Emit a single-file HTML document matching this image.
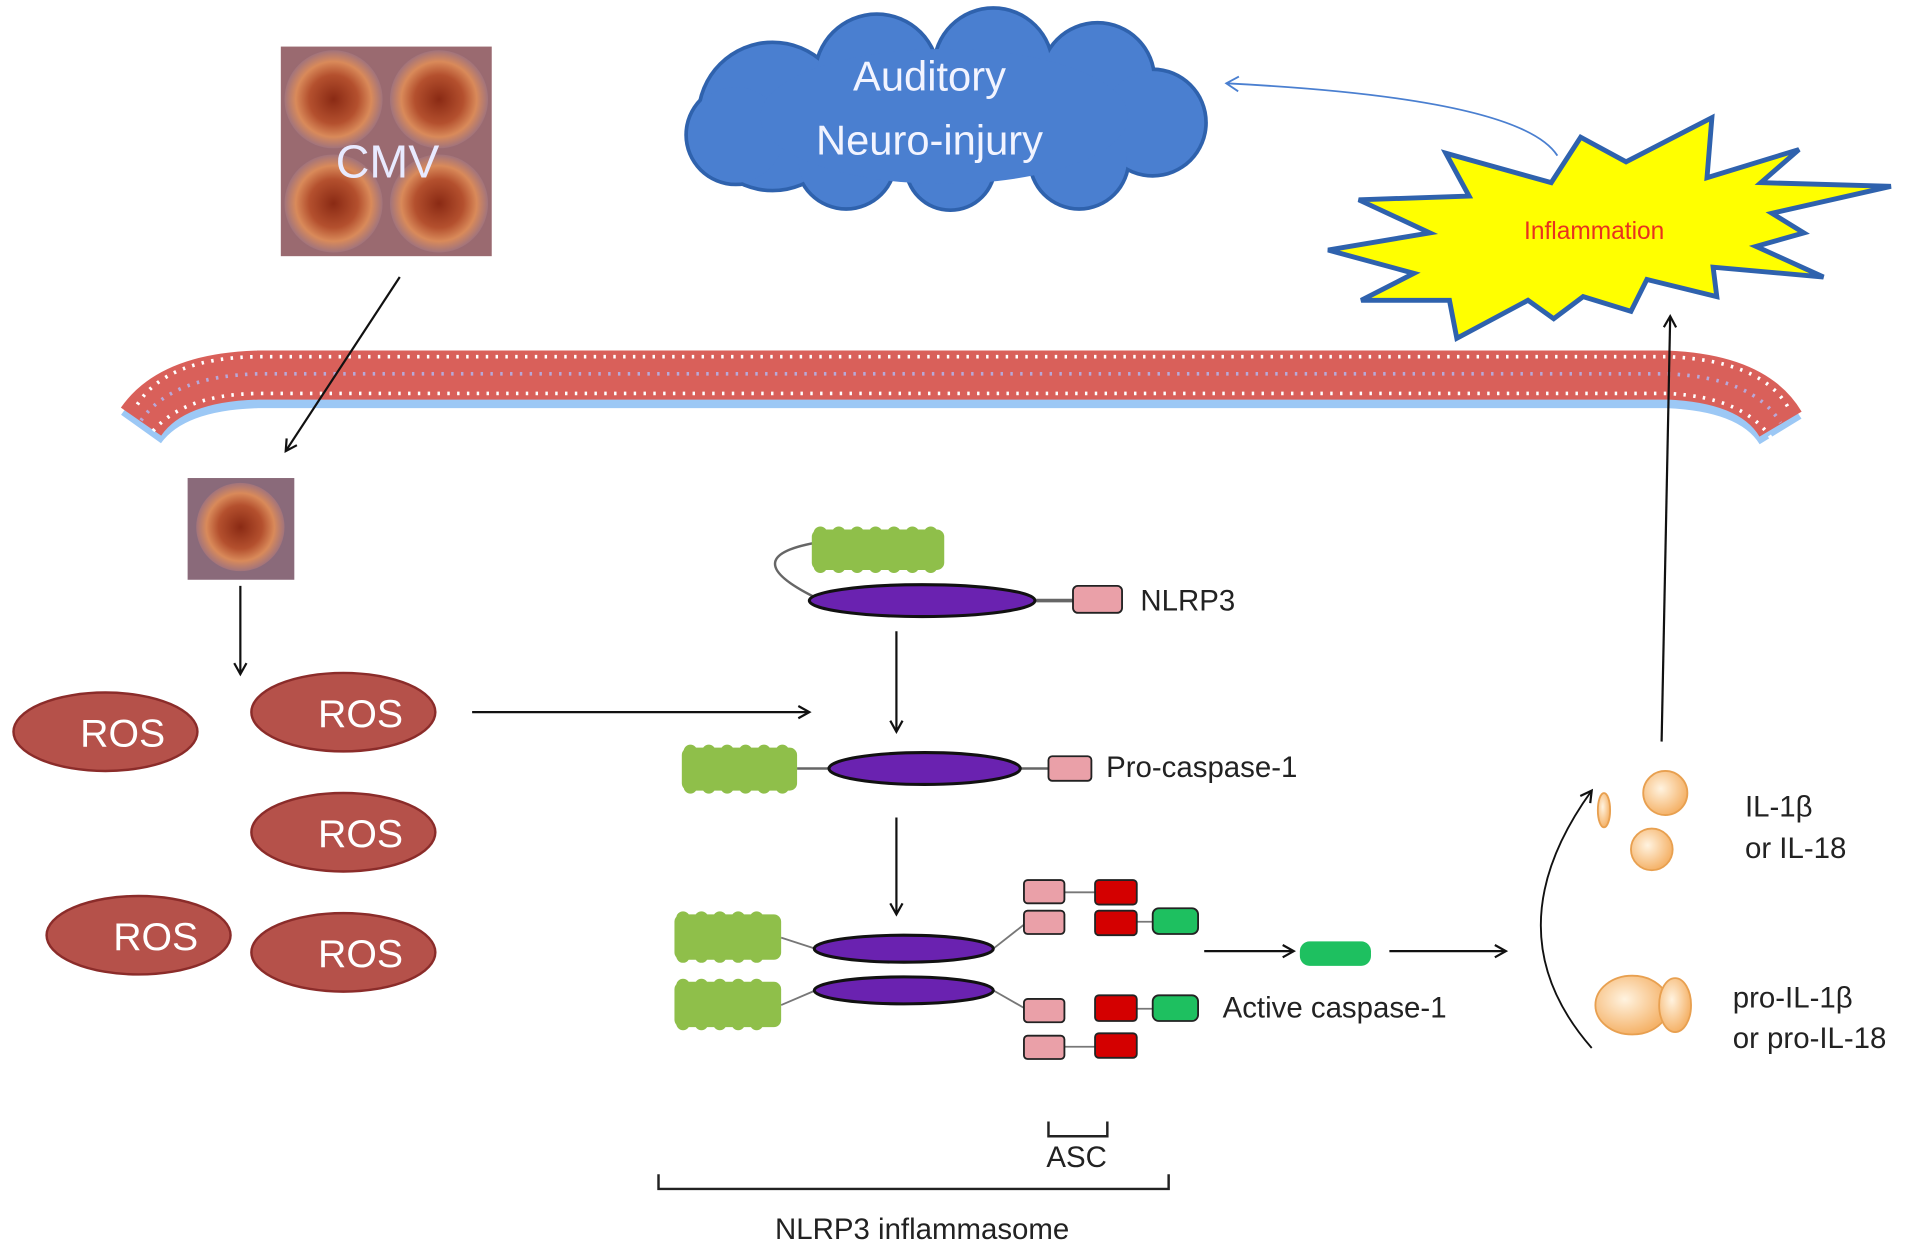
<!DOCTYPE html>
<html><head><meta charset="utf-8"><style>html,body{margin:0;padding:0;background:#fff;overflow:hidden}svg{display:block}</style></head>
<body>
<svg width="1913" height="1249" viewBox="0 0 1560 1019" preserveAspectRatio="none" xmlns="http://www.w3.org/2000/svg" font-family="Liberation Sans, sans-serif">
<defs>
<radialGradient id="vir" cx="50%" cy="50%" r="55%">
<stop offset="0" stop-color="#8a2a14"/><stop offset="0.45" stop-color="#b4502e"/><stop offset="0.7" stop-color="#d98a5a"/><stop offset="1" stop-color="#8a6a8a"/>
</radialGradient>
<radialGradient id="ball" cx="40%" cy="40%" r="60%"><stop offset="0" stop-color="#fff3e0"/><stop offset="1" stop-color="#f5b36a"/></radialGradient>
<marker id="ah" markerWidth="12" markerHeight="12" refX="10" refY="6" orient="auto" markerUnits="userSpaceOnUse"><path d="M1,1 L10,6 L1,11" fill="none" stroke="#111" stroke-width="1.8"/></marker>
<marker id="ahb" markerWidth="14" markerHeight="14" refX="12" refY="7" orient="auto" markerUnits="userSpaceOnUse"><path d="M2,1 L12,7 L2,13" fill="none" stroke="#4a7fd0" stroke-width="1.5"/></marker>
</defs>

<!-- CMV image -->
<rect x="229" y="38" width="172" height="171" fill="#9a6a70"/>
<circle cx="272" cy="81" r="40" fill="url(#vir)"/><circle cx="358" cy="81" r="40" fill="url(#vir)"/>
<circle cx="272" cy="166" r="40" fill="url(#vir)"/><circle cx="358" cy="166" r="40" fill="url(#vir)"/>
<text x="316" y="145" font-size="38" fill="#e8eaff" text-anchor="middle">CMV</text>

<!-- Cloud -->
<g fill="#2f62ad">
<circle cx="630" cy="95" r="62"/><circle cx="715" cy="62" r="52"/><circle cx="810" cy="55" r="50"/><circle cx="895" cy="65" r="48"/><circle cx="940" cy="100" r="45"/><circle cx="880" cy="130" r="42"/><circle cx="775" cy="135" r="38"/><circle cx="690" cy="130" r="42"/><circle cx="600" cy="110" r="42"/></g>
<g fill="#4a7fd0">
<circle cx="630" cy="95" r="59"/><circle cx="715" cy="62" r="49"/><circle cx="810" cy="55" r="47"/><circle cx="895" cy="65" r="45"/><circle cx="940" cy="100" r="42"/><circle cx="880" cy="130" r="39"/><circle cx="775" cy="135" r="35"/><circle cx="690" cy="130" r="39"/><circle cx="600" cy="110" r="39"/><ellipse cx="770" cy="95" rx="150" ry="55"/></g>
<text x="758" y="74" font-size="34" fill="#f2f4ff" text-anchor="middle">Auditory</text>
<text x="758" y="126" font-size="34" fill="#f2f4ff" text-anchor="middle">Neuro-injury</text>
<path d="M1270,127 Q1240,80 1000,68" fill="none" stroke="#4a7fd0" stroke-width="1.5" marker-end="url(#ahb)"/>

<!-- Star -->
<polygon points="1083,204 1166,190 1108,163 1198,160 1179,125 1265,149 1289,112 1326,132 1396,96 1392,145 1467,122 1436,149 1542,152 1445,174 1471,190 1432,201 1487,226 1397,218 1400,242 1343,228 1330,254 1291,242 1267,260 1246,245 1188,276 1182,245 1110,245 1153,223" fill="#ffff00" stroke="#2f62ad" stroke-width="4" stroke-linejoin="miter"/>
<text x="1300" y="195" font-size="20" fill="#e8321e" text-anchor="middle">Inflammation</text>

<!-- Membrane -->
<path d="M115,350 Q140,315 210,313 L1360,313 Q1430,316 1452,352" fill="none" stroke="#9cc8f5" stroke-width="40"/>
<path d="M115,344 Q140,308 210,306 L1360,306 Q1430,309 1452,346" fill="none" stroke="#d9605a" stroke-width="40"/>
<path d="M112,330 Q136,292 210,291 L1360,291 Q1436,294 1458,332" fill="none" stroke="#fff" stroke-width="3" stroke-dasharray="2 6"/>
<path d="M120,358 Q144,322 210,321 L1360,321 Q1424,324 1446,360" fill="none" stroke="#fff" stroke-width="3" stroke-dasharray="2 6"/>
<path d="M115,343 Q140,307 210,305 L1360,305 Q1430,308 1452,345" fill="none" stroke="#b8a8d8" stroke-width="3" stroke-dasharray="2 6"/>

<line x1="326" y1="226" x2="233" y2="368" stroke="#111" stroke-width="1.8" marker-end="url(#ah)"/>

<!-- small virus -->
<rect x="153" y="390" width="87" height="83" fill="#8a6a7a"/>
<circle cx="196" cy="430" r="36" fill="url(#vir)"/>
<line x1="196" y1="478" x2="196" y2="550" stroke="#111" stroke-width="1.8" marker-end="url(#ah)"/>

<!-- ROS -->
<g fill="#b5514a" stroke="#8b2c2a" stroke-width="2">
<ellipse cx="86" cy="597" rx="75" ry="32"/><ellipse cx="280" cy="581" rx="75" ry="32"/><ellipse cx="280" cy="679" rx="75" ry="32"/><ellipse cx="113" cy="763" rx="75" ry="32"/><ellipse cx="280" cy="777" rx="75" ry="32"/></g>
<g font-size="32" fill="#fff" text-anchor="middle">
<text x="100" y="609">ROS</text><text x="294" y="593">ROS</text><text x="294" y="691">ROS</text><text x="127" y="775">ROS</text><text x="294" y="789">ROS</text></g>
<line x1="385" y1="581" x2="660" y2="581" stroke="#111" stroke-width="1.8" marker-end="url(#ah)"/>

<!-- NLRP3 -->
<path d="M664,443 Q600,455 664,487" fill="none" stroke="#666" stroke-width="2"/>
<g stroke="#8fbf4a" stroke-width="11" stroke-linecap="round" stroke-dasharray="0 15">
<line x1="669" y1="435" x2="765" y2="435"/><line x1="669" y1="462" x2="765" y2="462"/>
<line x1="563" y1="613" x2="645" y2="613"/><line x1="563" y1="642" x2="645" y2="642"/>
<line x1="557" y1="749" x2="632" y2="749"/><line x1="557" y1="780" x2="632" y2="780"/>
<line x1="557" y1="804" x2="632" y2="804"/><line x1="557" y1="835" x2="632" y2="835"/></g>
<rect x="662" y="432" width="108" height="33" rx="6" fill="#8fbf4a"/>
<line x1="845" y1="490" x2="877" y2="490" stroke="#666" stroke-width="3"/>
<ellipse cx="752" cy="490" rx="92" ry="13" fill="#6a22b0" stroke="#111" stroke-width="2.5"/>
<rect x="875" y="478" width="40" height="22" rx="4" fill="#eaa0a8" stroke="#222" stroke-width="1.5"/>
<text x="930" y="498" font-size="24" fill="#222">NLRP3</text>
<line x1="731" y1="515" x2="731" y2="597" stroke="#111" stroke-width="1.8" marker-end="url(#ah)"/>

<!-- Pro-caspase-1 -->
<line x1="650" y1="627" x2="860" y2="627" stroke="#666" stroke-width="2"/>
<rect x="556" y="610" width="94" height="35" rx="6" fill="#8fbf4a"/>
<ellipse cx="754" cy="627" rx="78" ry="13" fill="#6a22b0" stroke="#111" stroke-width="2.5"/>
<rect x="855" y="617" width="35" height="20" rx="3" fill="#eaa0a8" stroke="#222" stroke-width="1.5"/>
<text x="902" y="634" font-size="24" fill="#222">Pro-caspase-1</text>
<line x1="731" y1="667" x2="731" y2="746" stroke="#111" stroke-width="1.8" marker-end="url(#ah)"/>

<!-- Inflammasome -->
<g stroke="#777" stroke-width="1.5" fill="none">
<line x1="637" y1="765" x2="665" y2="774"/><line x1="637" y1="820" x2="665" y2="808"/>
<line x1="810" y1="774" x2="838" y2="752"/><line x1="810" y1="808" x2="838" y2="824"/>
<line x1="868" y1="728" x2="893" y2="728"/><line x1="868" y1="854" x2="893" y2="854"/>
<line x1="927" y1="752" x2="940" y2="752"/><line x1="927" y1="823" x2="940" y2="823"/></g>
<rect x="550" y="746" width="87" height="37" rx="6" fill="#8fbf4a"/>
<rect x="550" y="801" width="87" height="37" rx="6" fill="#8fbf4a"/>
<ellipse cx="737" cy="774" rx="73" ry="11" fill="#6a22b0" stroke="#111" stroke-width="2.5"/>
<ellipse cx="737" cy="808" rx="73" ry="11" fill="#6a22b0" stroke="#111" stroke-width="2.5"/>
<g fill="#eaa0a8" stroke="#222" stroke-width="1.5">
<rect x="835" y="718" width="33" height="19" rx="3"/><rect x="835" y="743" width="33" height="19" rx="3"/><rect x="835" y="815" width="33" height="19" rx="3"/><rect x="835" y="845" width="33" height="19" rx="3"/></g>
<g fill="#d40000" stroke="#222" stroke-width="1.5">
<rect x="893" y="718" width="34" height="20" rx="3"/><rect x="893" y="743" width="34" height="20" rx="3"/><rect x="893" y="812" width="34" height="21" rx="3"/><rect x="893" y="843" width="34" height="20" rx="3"/></g>
<g fill="#1ec060" stroke="#222" stroke-width="1.5">
<rect x="940" y="741" width="37" height="21" rx="5"/><rect x="940" y="812" width="37" height="21" rx="5"/></g>
<line x1="982" y1="776" x2="1055" y2="776" stroke="#111" stroke-width="1.8" marker-end="url(#ah)"/>
<rect x="1060" y="768" width="58" height="20" rx="8" fill="#1ec060"/>
<line x1="1133" y1="776" x2="1228" y2="776" stroke="#111" stroke-width="1.8" marker-end="url(#ah)"/>
<text x="997" y="830" font-size="24" fill="#222">Active caspase-1</text>

<path d="M855,915 L855,927 L903,927 L903,915" fill="none" stroke="#222" stroke-width="2"/>
<text x="878" y="952" font-size="24" fill="#222" text-anchor="middle">ASC</text>
<path d="M537,958 L537,970 L953,970 L953,958" fill="none" stroke="#222" stroke-width="2"/>
<text x="752" y="1011" font-size="24" fill="#222" text-anchor="middle">NLRP3 inflammasome</text>

<!-- Right side -->
<path d="M1298,855 Q1215,760 1298,645" fill="none" stroke="#111" stroke-width="1.5" marker-end="url(#ah)"/>
<ellipse cx="1308" cy="661" rx="5" ry="14" fill="url(#ball)" stroke="#e8a050" stroke-width="1.5"/>
<circle cx="1358" cy="647" r="18" fill="url(#ball)" stroke="#e8a050" stroke-width="1.5"/>
<circle cx="1347" cy="693" r="17" fill="url(#ball)" stroke="#e8a050" stroke-width="1.5"/>
<ellipse cx="1331" cy="820" rx="30" ry="24" fill="url(#ball)" stroke="#e8a050" stroke-width="1.5"/>
<ellipse cx="1366" cy="820" rx="13" ry="22" fill="url(#ball)" stroke="#e8a050" stroke-width="1.5"/>
<g font-size="24" fill="#222">
<text x="1423" y="666">IL-1β</text><text x="1423" y="700">or IL-18</text>
<text x="1413" y="822">pro-IL-1β</text><text x="1413" y="855">or pro-IL-18</text></g>
<line x1="1355" y1="605" x2="1362" y2="258" stroke="#111" stroke-width="1.8" marker-end="url(#ah)"/>
</svg>
</body></html>
